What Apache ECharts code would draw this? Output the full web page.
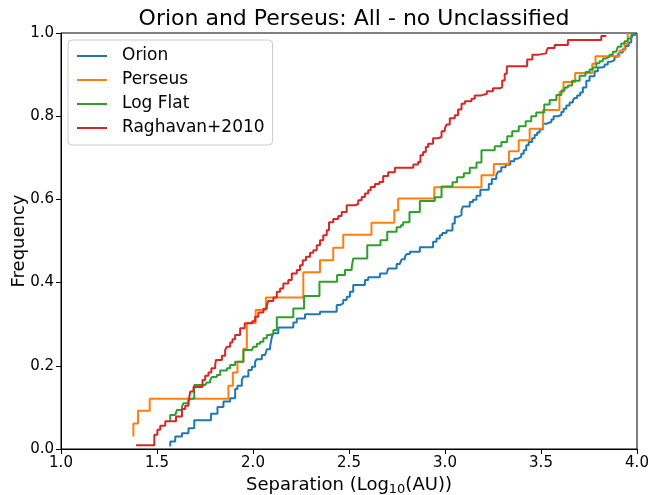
<!DOCTYPE html>
<html><head><meta charset="utf-8">
<script src="https://cdn.jsdelivr.net/npm/echarts@6/dist/echarts.min.js"></script>
<style>html,body{margin:0;padding:0;background:#fff}#c{width:651px;height:495px}</style>
</head><body><div id="c"></div>
<script>
// Orion (jump positions and levels of the cumulative step curve)
const orionX = [1.569,1.569,1.595,1.630,1.664,1.694,1.781,1.815,1.846,1.881,1.907,1.919,1.942,1.950,1.976,1.994,2.011,2.020,2.046,2.063,2.072,2.089,2.098,2.106,2.132,2.210,2.228,2.271,2.349,2.436,2.453,2.470,2.488,2.505,2.522,2.583,2.600,2.661,2.696,2.704,2.748,2.765,2.774,2.791,2.800,2.817,2.869,2.938,2.956,2.973,2.986,3.008,3.039,3.051,3.068,3.086,3.094,3.129,3.146,3.164,3.184,3.228,3.244,3.267,3.277,3.293,3.316,3.340,3.361,3.379,3.397,3.410,3.423,3.436,3.454,3.467,3.480,3.493,3.510,3.528,3.554,3.566,3.588,3.606,3.618,3.632,3.649,3.666,3.675,3.688,3.704,3.718,3.736,3.753,3.779,3.796,3.814,3.831,3.848,3.866,3.883,3.900,3.909,3.926,3.940,3.957,3.970,3.978,3.990];
const orionY = [0.006,0.018,0.030,0.038,0.050,0.069,0.085,0.101,0.114,0.122,0.144,0.152,0.166,0.174,0.190,0.198,0.210,0.216,0.226,0.230,0.240,0.246,0.269,0.278,0.292,0.304,0.314,0.324,0.330,0.346,0.350,0.358,0.366,0.378,0.394,0.406,0.413,0.422,0.426,0.434,0.445,0.449,0.456,0.462,0.469,0.474,0.485,0.498,0.506,0.514,0.519,0.525,0.542,0.558,0.562,0.574,0.583,0.594,0.599,0.609,0.623,0.637,0.649,0.658,0.667,0.677,0.683,0.692,0.698,0.702,0.710,0.718,0.730,0.738,0.747,0.755,0.761,0.768,0.782,0.786,0.792,0.800,0.803,0.810,0.818,0.826,0.833,0.838,0.844,0.850,0.857,0.869,0.885,0.896,0.908,0.917,0.919,0.924,0.931,0.935,0.943,0.948,0.953,0.961,0.969,0.977,0.987,0.995,1.000];

// Perseus
const perseusX = [1.377,1.377,1.401,1.462,1.872,1.895,1.919,1.950,1.968,2.014,2.067,2.262,2.349,2.418,2.470,2.617,2.736,2.756,2.944,3.190,3.254,3.333,3.384,3.441,3.511,3.596,3.617,3.678,3.767,3.784,3.909,3.935,3.952];
const perseusY = [0.030,0.061,0.092,0.121,0.152,0.184,0.210,0.241,0.303,0.334,0.364,0.425,0.454,0.484,0.515,0.544,0.574,0.602,0.629,0.658,0.685,0.716,0.742,0.770,0.815,0.858,0.882,0.904,0.926,0.944,0.958,0.974,1.000];

// Log Flat
const logflatX = [1.569,1.569,1.595,1.604,1.630,1.638,1.664,1.673,1.694,1.751,1.760,1.777,1.786,1.812,1.829,1.864,1.881,1.907,1.950,1.994,2.002,2.020,2.037,2.054,2.072,2.089,2.106,2.124,2.210,2.266,2.346,2.438,2.479,2.514,2.522,2.595,2.664,2.699,2.748,2.770,2.782,2.815,2.869,2.947,2.982,3.039,3.063,3.098,3.129,3.164,3.190,3.259,3.294,3.324,3.350,3.384,3.420,3.449,3.475,3.517,3.545,3.580,3.606,3.623,3.640,3.662,3.701,3.732,3.753,3.770,3.788,3.805,3.822,3.840,3.857,3.874,3.892,3.900,3.918,3.935,3.952,3.970,3.982];
const logflatY = [0.068,0.082,0.086,0.094,0.101,0.110,0.118,0.122,0.154,0.157,0.160,0.166,0.173,0.178,0.189,0.194,0.202,0.210,0.238,0.240,0.246,0.253,0.258,0.266,0.274,0.278,0.286,0.317,0.338,0.368,0.402,0.418,0.430,0.437,0.458,0.490,0.502,0.522,0.533,0.538,0.545,0.570,0.596,0.605,0.631,0.641,0.653,0.663,0.676,0.689,0.718,0.728,0.738,0.752,0.764,0.776,0.788,0.800,0.809,0.828,0.839,0.851,0.862,0.869,0.874,0.885,0.897,0.906,0.912,0.917,0.927,0.932,0.939,0.943,0.948,0.955,0.959,0.967,0.975,0.980,0.987,0.995,1.000];

// Raghavan+2010
const raghavanX = [1.391,1.486,1.502,1.517,1.543,1.599,1.630,1.647,1.664,1.673,1.690,1.737,1.751,1.768,1.783,1.803,1.807,1.838,1.855,1.864,1.881,1.893,1.907,1.933,1.957,1.996,2.011,2.028,2.054,2.072,2.080,2.106,2.124,2.141,2.158,2.184,2.202,2.228,2.245,2.259,2.276,2.297,2.314,2.332,2.349,2.366,2.384,2.396,2.418,2.444,2.462,2.488,2.531,2.548,2.566,2.583,2.600,2.613,2.635,2.658,2.678,2.704,2.739,2.835,2.860,2.872,2.886,2.900,2.912,2.938,2.964,2.982,2.999,3.008,3.025,3.051,3.068,3.086,3.103,3.138,3.155,3.190,3.218,3.250,3.285,3.298,3.311,3.322,3.428,3.455,3.489,3.528,3.536,3.571,3.640,3.814,3.840];
const raghavanY = [0.009,0.034,0.046,0.056,0.067,0.078,0.096,0.104,0.114,0.138,0.149,0.166,0.176,0.184,0.194,0.202,0.214,0.224,0.238,0.246,0.256,0.264,0.274,0.290,0.302,0.307,0.318,0.328,0.337,0.346,0.356,0.364,0.378,0.386,0.398,0.406,0.422,0.430,0.442,0.454,0.462,0.472,0.478,0.490,0.502,0.514,0.526,0.545,0.553,0.560,0.570,0.586,0.589,0.598,0.606,0.614,0.622,0.630,0.637,0.642,0.656,0.665,0.676,0.684,0.690,0.706,0.714,0.726,0.734,0.747,0.750,0.764,0.770,0.780,0.795,0.802,0.816,0.830,0.836,0.842,0.850,0.854,0.860,0.867,0.870,0.886,0.902,0.920,0.936,0.948,0.951,0.956,0.964,0.971,0.983,0.993,0.993];

const seriesNames = ['Orion','Perseus','Log Flat','Raghavan+2010'];
const seriesColors = ['#1f77b4','#ff7f0e','#2ca02c','#d62728'];
const xTicks = [1.0,1.5,2.0,2.5,3.0,3.5,4.0];
const yTicks = [0.0,0.2,0.4,0.6,0.8,1.0];

const font = 'DejaVu Sans';
function zip(xs, ys){ return xs.map((x,i)=>[x, ys[i]]); }
const raw = [[orionX,orionY],[perseusX,perseusY],[logflatX,logflatY],[raghavanX,raghavanY]];
const series = raw.map((d,i)=>({
  type:'line', name:seriesNames[i], data:zip(d[0],d[1]), step:'end',
  symbol:'none', showSymbol:false, clip:true,
  lineStyle:{width:2,color:seriesColors[i]}, itemStyle:{color:seriesColors[i]},
  emphasis:{disabled:true}, animation:false, z:2+i
}));

const chart = echarts.init(document.getElementById('c'));
chart.setOption({
  animation:false,
  backgroundColor:'#ffffff',
  title:{text:'Orion and Perseus: All - no Unclassified', left:349, top:3, textAlign:'center',
    textStyle:{fontFamily:font,fontSize:22,fontWeight:'normal',color:'#000'}},
  legend:{orient:'vertical', left:68, top:40, icon:'rect', itemWidth:30, itemHeight:2, itemGap:4,
    padding:[6,8,7,9], backgroundColor:'rgba(255,255,255,0.8)', borderColor:'#cccccc',
    borderWidth:1, borderRadius:4, data:seriesNames,
    textStyle:{fontFamily:font,fontSize:17,lineHeight:20,color:'#000',padding:[0,0,0,10]}},
  grid:{left:61, right:14, top:33, bottom:46, show:true, borderColor:'#000', borderWidth:1,
    containLabel:false, outerBoundsMode:'none'},
  xAxis:{type:'value', min:xTicks[0], max:xTicks[xTicks.length-1], interval:0.5,
    axisLine:{show:true,lineStyle:{color:'#000',width:1}},
    axisTick:{show:true,inside:false,length:5,lineStyle:{color:'#000',width:1}},
    splitLine:{show:false},
    axisLabel:{margin:7,fontFamily:font,fontSize:15,color:'#000',formatter:v=>v.toFixed(1)},
    name:'{a|Separation (Log}{b|10}{a|(AU))}', nameLocation:'middle', nameGap:19,
    nameTextStyle:{fontFamily:font,fontSize:18,color:'#000',
      rich:{a:{fontFamily:font,fontSize:18,color:'#000',lineHeight:22},
            b:{fontFamily:font,fontSize:13,color:'#000',lineHeight:13,verticalAlign:'bottom'}}}},
  yAxis:{type:'value', min:yTicks[0], max:yTicks[yTicks.length-1], interval:0.2,
    axisLine:{show:true,lineStyle:{color:'#000',width:1}},
    axisTick:{show:true,inside:false,length:5,lineStyle:{color:'#000',width:1}},
    splitLine:{show:false},
    axisLabel:{margin:7,fontFamily:font,fontSize:15,color:'#000',formatter:v=>v.toFixed(1)},
    name:'Frequency', nameLocation:'middle', nameGap:33, nameMoveOverlap:false,
    nameTextStyle:{fontFamily:font,fontSize:18,color:'#000'}},
  series:series
});
</script></body></html>
